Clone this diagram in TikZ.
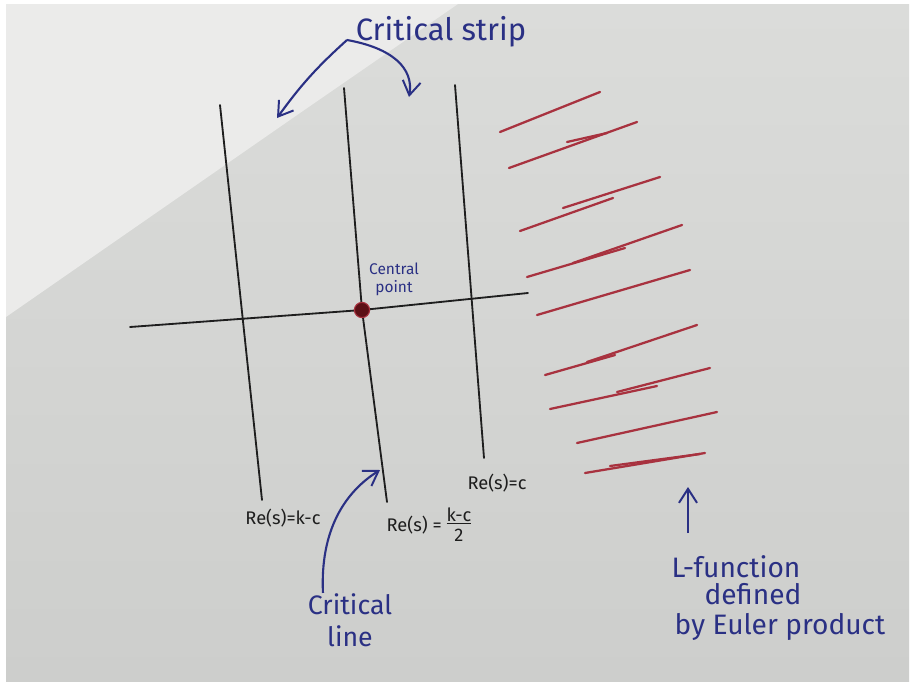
\documentclass[tikz,border=0pt]{standalone}
\usepackage{fontspec}
\setmainfont{Fira Sans}
\usetikzlibrary{arrows.meta}

\definecolor{paperlight}{HTML}{EBEBEA}
\definecolor{papertop}{HTML}{DBDCDA}
\definecolor{paperbottom}{HTML}{CDCECC}
\definecolor{inkblue}{HTML}{2A3084}
\definecolor{inkred}{HTML}{A8323F}
\definecolor{inkblack}{HTML}{1E1E1E}
\definecolor{dotred}{HTML}{5C1016}

\begin{document}
\begin{tikzpicture}[x=0.025cm,y=-0.025cm]
\tikzset{
  axisline/.style={line width=1.3pt,draw=inkblack,line cap=round},
  redstroke/.style={line width=1.6pt,draw=inkred,line cap=round},
  pointer/.style={-{Straight Barb[length=3.5mm,width=4.5mm,line width=1.4pt]},line width=1.5pt,draw=inkblue},
  note/.style={text=inkblue,inner sep=0pt},
  relabel/.style={text=inkblack,inner sep=0pt,font=\fontsize{13}{15}\selectfont}
}
% paper
\fill[white] (0,0) rectangle (912,684);
\shade[top color=papertop,bottom color=paperbottom] (6,4) rectangle (909,681);
\fill[paperlight] (6,4) -- (6,317) -- (300,113) -- (458,4) -- cycle;

% lines of the strip
\coordinate (l1t) at (220,105);
\coordinate (l1b) at (262,500);
\coordinate (l2t) at (344,88);
\coordinate (l2b) at (387,502);
\coordinate (l3t) at (455,85);
\coordinate (l3b) at (484,458);
\coordinate (axl) at (130,327);
\coordinate (axr) at (528,293);
\coordinate (origin) at (362,310);
\draw[axisline] (l1t) -- (l1b);
\draw[axisline] (l2t) -- (origin) -- (l2b);
\draw[axisline] (l3t) -- (l3b);
\draw[axisline] (axl) -- (origin) -- (axr);
\node[circle,fill=dotred,draw=inkred,line width=0.8pt,minimum size=0.38cm,inner sep=0pt] (n_origin) at (origin) {};

% Euler product region
\foreach \ax/\ay/\bx/\by in {500/132/600/92, 509/168/637/122, 567/142/607/133,
  520/231/613/198, 563/208/660/177, 527/277/625/248, 573/263/682/225,
  537/315/690/270, 545/375/615/355, 587/362/697/325, 550/409/657/386,
  617/392/710/368, 577/443/717/412, 585/473/705/453, 610/466/700/454}
  \draw[redstroke] (\ax,\ay) -- (\bx,\by);

% labels
\node[note,font=\fontsize{22}{24}\selectfont] (n_strip) at (441,32) {Critical strip};
\node[note,font=\fontsize{11}{13}\selectfont,align=center] (n_central) at (394,279) {Central\\point};
\node[relabel] (n_re1) at (283,518) {Re(s)=k-c};
\node[relabel] (n_re2) at (429,527) {Re(s) = \begin{tabular}{@{}c@{}}\underline{k-c}\\[-1pt]2\end{tabular}};
\node[relabel] (n_re3) at (497,483) {Re(s)=c};
\node[note,font=\fontsize{19}{23}\selectfont,align=center] (n_critline) at (350,620) {Critical\\line};
\node[note,font=\fontsize{20}{22}\selectfont] (n_lfun) at (736,567) {L-function};
\node[note,font=\fontsize{20}{22}\selectfont] (n_defined) at (753,594) {defined};
\node[note,font=\fontsize{20}{22}\selectfont] (n_euler) at (780,627) {by Euler product};

% pointers
\coordinate (c_hub) at (347,40);
\coordinate (c_stripL) at (277,118);
\coordinate (c_stripR) at (409,97);
\coordinate (c_clhead) at (380,470);
\coordinate (c_ltail) at (688,533);
\coordinate (c_lhead) at (688,487);
\draw[pointer] (c_hub) to[bend right=6] (c_stripL);
\draw[pointer] (c_hub) .. controls (392,48) and (414,68) .. (c_stripR);
\draw[pointer] (n_critline.135) .. controls (320,530) and (345,492) .. (c_clhead);
\draw[pointer] (c_ltail) -- (c_lhead);
\end{tikzpicture}
\end{document}
